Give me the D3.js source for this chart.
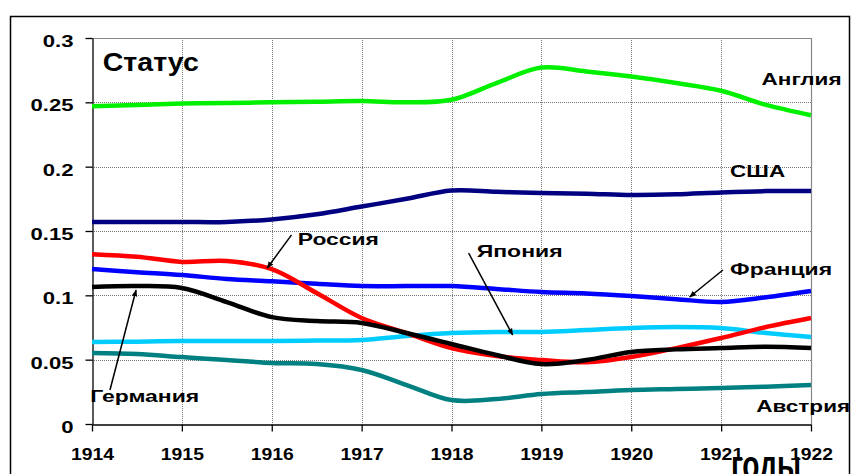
<!DOCTYPE html>
<html>
<head>
<meta charset="utf-8">
<script src="https://cdn.jsdelivr.net/npm/d3@7"></script>
<style>
  body { margin: 0; background: #fff; }
  svg { display: block; }
  text { font-family: "Liberation Sans", Arial, sans-serif; font-weight: bold; fill: #000; }
</style>
</head>
<body>
<div id="chart"></div>
<script>
// values, every half year
const years = [1914, 1914.5, 1915, 1915.5, 1916, 1916.5, 1917, 1917.5, 1918,
               1918.5, 1919, 1919.5, 1920, 1920.5, 1921, 1921.5, 1922];
const anglia  = [0.247, 0.248, 0.249, 0.2495, 0.250, 0.2505, 0.251, 0.250, 0.252, 0.265, 0.277, 0.274, 0.270, 0.265, 0.259, 0.248, 0.240];
const usa     = [0.157, 0.157, 0.157, 0.157, 0.159, 0.163, 0.169, 0.175, 0.1815, 0.1805, 0.1795, 0.179, 0.178, 0.1785, 0.180, 0.181, 0.181];
const france  = [0.1204, 0.118, 0.1158, 0.1127, 0.111, 0.109, 0.1072, 0.1072, 0.1072, 0.105, 0.1026, 0.1015, 0.0995, 0.097, 0.0948, 0.0985, 0.1034];
const russia  = [0.132, 0.130, 0.126, 0.1267, 0.1204, 0.1018, 0.0824, 0.0707, 0.059, 0.0528, 0.0497, 0.048, 0.052, 0.059, 0.0668, 0.0754, 0.0824];
const germany = [0.1065, 0.1072, 0.1057, 0.0948, 0.0831, 0.080, 0.0785, 0.0707, 0.0622, 0.0536, 0.0466, 0.0497, 0.056, 0.058, 0.059, 0.060, 0.059];
const japan   = [0.0637, 0.064, 0.0645, 0.0645, 0.0645, 0.0648, 0.0653, 0.0684, 0.0707, 0.0715, 0.0715, 0.073, 0.0746, 0.0754, 0.0746, 0.0707, 0.0676];
const austria = [0.0552, 0.0544, 0.052, 0.0497, 0.0474, 0.0466, 0.042, 0.0303, 0.0186, 0.0194, 0.0233, 0.0249, 0.0264, 0.0272, 0.028, 0.029, 0.0303];

const yearTicks  = [1914, 1915, 1916, 1917, 1918, 1919, 1920, 1921, 1922];
const valueTicks = [0, 0.05, 0.1, 0.15, 0.2, 0.25, 0.3];

const W = 854, H = 474;
const plotLeft = 92, plotRight = 811, plotTop = 38, plotBottom = 424;

const svg = d3.select("#chart").append("svg")
    .attr("width", W)
    .attr("height", H);

// outer frame of the picture
svg.append("rect")
    .attr("x", 10.5).attr("y", 16.5)
    .attr("width", 839).attr("height", 500)
    .attr("fill", "none")
    .attr("stroke", "#000")
    .attr("stroke-width", 1.5);

const x = d3.scaleLinear().domain([1914, 1922]).range([plotLeft, plotRight]);
const y = d3.scaleLinear().domain([0, 0.3]).range([plotBottom, plotTop]);

// grid
svg.append("g").selectAll("line")
    .data(valueTicks.slice(1, -1))
    .join("line")
    .attr("x1", plotLeft).attr("x2", plotRight)
    .attr("y1", d => Math.round(y(d)) + 0.5).attr("y2", d => Math.round(y(d)) + 0.5)
    .attr("stroke", "#777").attr("stroke-dasharray", "1,1");
svg.append("g").selectAll("line")
    .data(yearTicks.slice(1, -1))
    .join("line")
    .attr("x1", d => Math.round(x(d)) + 0.5).attr("x2", d => Math.round(x(d)) + 0.5)
    .attr("y1", plotTop).attr("y2", plotBottom)
    .attr("stroke", "#777").attr("stroke-dasharray", "1,1");

// plot border top and right
svg.append("path")
    .attr("d", `M${plotLeft},${y(0.3) + 0.5}H${x(1922) + 0.5}V${plotBottom}`)
    .attr("fill", "none")
    .attr("stroke", "#888")
    .attr("stroke-width", 1.2);

// axes
const xAxis = svg.append("g")
    .attr("transform", `translate(0,${plotBottom + 0.5})`)
    .call(d3.axisBottom(x).tickValues(yearTicks).tickFormat(d3.format("d")).tickSize(7).tickSizeOuter(0));
xAxis.selectAll("text")
    .attr("y", 36).attr("dy", 0)
    .attr("transform", "scale(1.14,1)")
    .style("font-size", "17px");

const yAxis = svg.append("g")
    .attr("transform", `translate(${plotLeft + 0.5},0)`)
    .call(d3.axisLeft(y).tickValues(valueTicks).tickFormat(d => String(d)).tickSize(7).tickSizeOuter(0));
yAxis.selectAll("text")
    .attr("x", -19 / 1.3).attr("dy", "0.5em")
    .attr("transform", "scale(1.3,1)")
    .style("font-size", "17px");
svg.selectAll(".domain, .tick line").attr("stroke", "#000").attr("stroke-width", 1.3);
svg.selectAll(".tick text").attr("font-family", null);

// lines
const series = [
  { values: anglia,  color: "#00f000" },
  { values: usa,     color: "#000080" },
  { values: france,  color: "#0000ff" },
  { values: japan,   color: "#00ccff" },
  { values: austria, color: "#008080" },
  { values: russia,  color: "#ff0000" },
  { values: germany, color: "#000000" }
];

const line = d3.line()
    .x((d, i) => x(years[i]))
    .y(d => y(d))
    .curve(d3.curveCatmullRom.alpha(0.5));

svg.append("g").selectAll("path")
    .data(series)
    .join("path")
    .attr("fill", "none")
    .attr("stroke", d => d.color)
    .attr("stroke-width", 4.5)
    .attr("stroke-linejoin", "round")
    .attr("d", d => line(d.values));

// arrows pointing at the lines
svg.append("defs").append("marker")
    .attr("id", "head")
    .attr("viewBox", "0 0 10 10")
    .attr("refX", 9).attr("refY", 5)
    .attr("markerWidth", 7).attr("markerHeight", 7)
    .attr("markerUnits", "userSpaceOnUse")
    .attr("orient", "auto")
    .append("path")
    .attr("d", "M0,1L10,5L0,9Z")
    .attr("fill", "#000");

const arrows = [
  { from: [1916.22, 0.147],  to: [1915.95, 0.1212] },
  { from: [1918.19, 0.1329], to: [1918.68, 0.0692] },
  { from: [1921.02, 0.1197], to: [1920.65, 0.0987] },
  { from: [1914.2, 0.0264],  to: [1914.49, 0.1041] }
];
svg.append("g").selectAll("line")
    .data(arrows)
    .join("line")
    .attr("x1", d => x(d.from[0])).attr("y1", d => y(d.from[1]))
    .attr("x2", d => x(d.to[0])).attr("y2", d => y(d.to[1]))
    .attr("stroke", "#000")
    .attr("stroke-width", 1.5)
    .attr("marker-end", "url(#head)");

// country labels
const labels = [
  { text: "Статус",   at: [1914.12, 0.2743], w: 96,  size: 25 },
  { text: "Англия",   at: [1921.45, 0.2634], w: 80,  size: 17 },
  { text: "США",      at: [1921.10, 0.1919], w: 55,  size: 17 },
  { text: "Россия",   at: [1916.29, 0.1391], w: 81,  size: 17 },
  { text: "Япония",   at: [1918.28, 0.1298], w: 86,  size: 17 },
  { text: "Франция",  at: [1921.10, 0.1158], w: 102, size: 17 },
  { text: "Австрия",  at: [1921.39, 0.0093], w: 94,  size: 17 },
  { text: "Германия", at: [1913.98, 0.0171], w: 109, size: 17 }
];
svg.append("g").selectAll("text")
    .data(labels)
    .join("text")
    .attr("x", d => x(d.at[0]))
    .attr("y", d => y(d.at[1]))
    .attr("textLength", d => d.w)
    .attr("lengthAdjust", "spacingAndGlyphs")
    .style("font-size", d => d.size + "px")
    .text(d => d.text);

// axis title, cut by the bottom edge as in the picture
svg.append("text")
    .attr("x", 731).attr("y", 479)
    .attr("textLength", 70)
    .attr("lengthAdjust", "spacingAndGlyphs")
    .style("font-size", "40px")
    .text("годы");
</script>
</body>
</html>
